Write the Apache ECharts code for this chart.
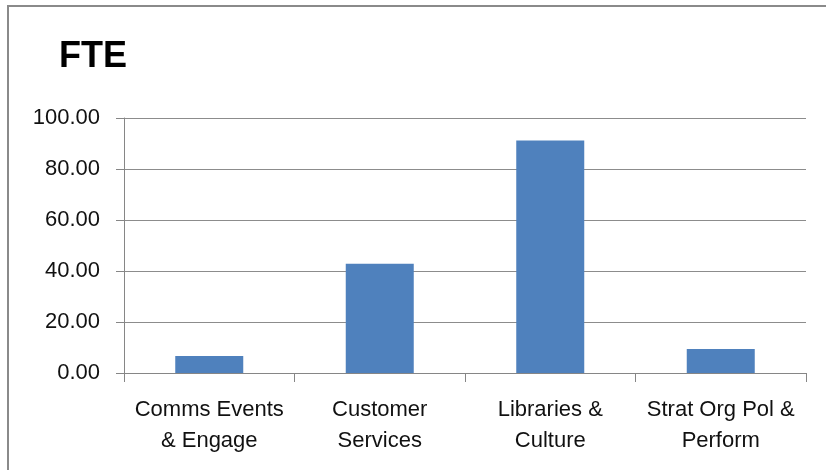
<!DOCTYPE html>
<html><head><meta charset="utf-8">
<script src="https://cdn.jsdelivr.net/npm/echarts@6/dist/echarts.min.js"></script>
<style>html,body{margin:0;padding:0;background:#fff}#c{width:826px;height:470px}</style>
</head><body><div id="c"></div>
<script>
var categories = ['Comms Events\n& Engage', 'Customer\nServices', 'Libraries &\nCulture', 'Strat Org Pol &\nPerform'];
var fteValues = [6.7, 42.8, 91.2, 9.4];
var yTicks = {min: 0, max: 100, interval: 20};

var chart = echarts.init(document.getElementById('c'));
chart.setOption({
  animation: false,
  backgroundColor: '#fff',
  title: {text: 'FTE', left: 54, top: 34,
    textStyle: {fontFamily: 'Liberation Sans', fontWeight: 'bold', fontSize: 36, color: '#000'}},
  graphic: [{type: 'rect', shape: {x: 8, y: 6, width: 1000, height: 1000},
    style: {fill: 'none', stroke: '#8a8a8a', lineWidth: 2}, silent: true}],
  grid: {left: 124, right: 20, top: 118, bottom: 97},
  xAxis: {type: 'category', data: categories,
    axisLine: {lineStyle: {color: '#868686', width: 1}},
    axisTick: {show: true, length: 9, lineStyle: {color: '#868686'}},
    axisLabel: {fontFamily: 'Liberation Sans', fontSize: 22, color: '#111', lineHeight: 31, margin: 21, interval: 0}},
  yAxis: {type: 'value', min: yTicks.min, max: yTicks.max, interval: yTicks.interval,
    axisLine: {show: true, lineStyle: {color: '#868686'}},
    axisTick: {show: true, length: 8, lineStyle: {color: '#868686'}},
    splitLine: {lineStyle: {color: '#8c8c8c'}},
    axisLabel: {fontFamily: 'Liberation Sans', fontSize: 22, color: '#111', margin: 24,
      formatter: function (v) { return v.toFixed(2); }}},
  series: [{type: 'bar', data: fteValues, barWidth: 68,
    itemStyle: {color: '#4F81BD'}}]
});
</script></body></html>
